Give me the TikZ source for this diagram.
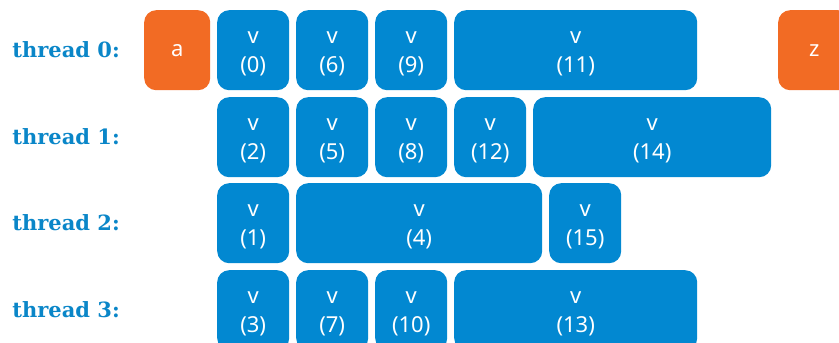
\documentclass[tikz,border=0pt]{standalone}
\usepackage{fontspec}
\setmainfont{Noto Sans}
\newfontfamily\slabfont{DejaVu Serif}
\definecolor{taskblue}{HTML}{0288D1}
\definecolor{endorange}{HTML}{F26B24}
\definecolor{labelblue}{HTML}{0A86C8}
\tikzset{
  job/.style={fill=taskblue, rounded corners=12pt, anchor=north west,
    minimum height=80pt, inner sep=0pt, align=center, text=white,
    font=\fontsize{22}{29}\selectfont},
  endpt/.style={job, fill=endorange},
  rowlabel/.style={anchor=east, text=labelblue, inner sep=0pt,
    font=\slabfont\bfseries\fontsize{21}{24}\selectfont}
}
\begin{document}
\begin{tikzpicture}[x=1pt,y=-1pt]
  \clip (0,0) rectangle (839,343);
  % row labels
  \foreach \r/\y in {0/50,1/137,2/223,3/310}
    \node[rowlabel] (lbl\r) at (120,\y) {thread \r:};
  % start and end
  \node[endpt, minimum width=66pt] (a) at (144,10) {a};
  \node[endpt, minimum width=72pt] (z) at (778,10) {z};
  % thread 0
  \foreach \x/\w/\n in {217/72/0,296/72/6,375/72/9,454/243/11}
    \node[job, minimum width=\w pt] (v\n) at (\x,10) {\rule{0pt}{20pt}v\\(\n)};
  % thread 1
  \foreach \x/\w/\n in {217/72/2,296/72/5,375/72/8,454/72/12,533/238/14}
    \node[job, minimum width=\w pt] (v\n) at (\x,97) {\rule{0pt}{20pt}v\\(\n)};
  % thread 2
  \foreach \x/\w/\n in {217/72/1,296/246/4,549/72/15}
    \node[job, minimum width=\w pt] (v\n) at (\x,183) {\rule{0pt}{20pt}v\\(\n)};
  % thread 3
  \foreach \x/\w/\n in {217/72/3,296/72/7,375/72/10,454/243/13}
    \node[job, minimum width=\w pt] (v\n) at (\x,270) {\rule{0pt}{20pt}v\\(\n)};
\end{tikzpicture}
\end{document}
